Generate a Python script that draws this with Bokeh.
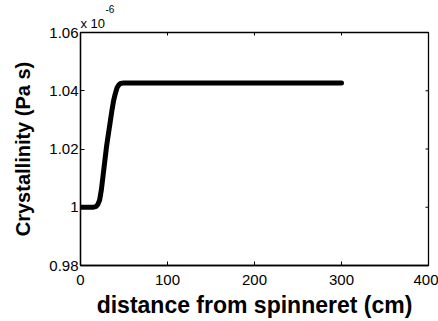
import math
from bokeh.plotting import figure
from bokeh.models import FixedTicker, Range1d, Title
from bokeh.embed import file_html
from bokeh.resources import INLINE

# distance from spinneret (cm)
distance = [0, 15, 18, 20, 22, 24, 26, 28, 30, 32, 34, 36, 38, 40, 42, 44, 46, 50, 100, 200, 300]
# crystallinity, in units of 1e-6 (Pa s)
crystallinity = [1.0, 1.0, 1.0003, 1.001, 1.0025, 1.006, 1.011, 1.016, 1.021, 1.025, 1.029,
                 1.033, 1.0365, 1.039, 1.041, 1.042, 1.0425, 1.0427, 1.0427, 1.0427, 1.0427]

x_ticks = [0, 100, 200, 300, 400]
y_ticks = [0.98, 1.0, 1.02, 1.04, 1.06]
y_tick_labels = ["0.98", "1", "1.02", "1.04", "1.06"]
x_label = "distance from spinneret (cm)"
y_label = "Crystallinity (Pa s)"
exponent_base = "x 10"
exponent_power = "-6"

FONT = "Liberation Sans"

p = figure(width=438, height=321, output_backend="svg", toolbar_location=None,
           x_range=Range1d(x_ticks[0], x_ticks[-1]), y_range=Range1d(y_ticks[0], y_ticks[-1]),
           min_border_left=80, min_border_right=10, min_border_top=32, min_border_bottom=56)
p.title.visible = False
p.background_fill_color = "white"
p.border_fill_color = "white"
p.outline_line_color = "black"
p.outline_line_width = 1.3
p.xgrid.visible = False
p.ygrid.visible = False

p.line(distance, crystallinity, line_color="black", line_width=5, line_join="round", line_cap="round")

# inward ticks on the top and right edges of the box (clipped to the frame)
p.scatter(x_ticks, [y_ticks[-1]] * len(x_ticks), marker="dash", angle=math.pi / 2,
          size=6, line_color="black", line_width=1)
p.scatter([x_ticks[-1]] * len(y_ticks), y_ticks, marker="dash",
          size=6, line_color="black", line_width=1)

for ax in (p.xaxis[0], p.yaxis[0]):
    ax.axis_line_color = "black"
    ax.axis_line_width = 1.3
    ax.major_tick_in = 4
    ax.major_tick_out = 0
    ax.minor_tick_line_color = None
    ax.major_tick_line_color = "black"
    ax.major_label_text_font = FONT
    ax.major_label_text_font_size = "15px"
    ax.major_label_text_color = "black"
    ax.axis_label_text_font = FONT
    ax.axis_label_text_font_style = "bold"
    ax.axis_label_text_color = "black"

p.xaxis.ticker = FixedTicker(ticks=x_ticks)
p.yaxis.ticker = FixedTicker(ticks=y_ticks)
p.yaxis.major_label_overrides = {v: s for v, s in zip(y_ticks, y_tick_labels)}
p.xaxis.major_label_standoff = 9
p.yaxis.major_label_standoff = 2

p.xaxis.axis_label = x_label
p.yaxis.axis_label = y_label
p.xaxis.axis_label_text_font_size = "23px"
p.yaxis.axis_label_text_font_size = "20px"
p.xaxis.axis_label_standoff = 4
p.yaxis.axis_label_standoff = 12

# "x 10^-6" multiplier above the top-left corner
p.add_layout(Title(text=exponent_base, align="left", text_font=FONT, text_font_size="13px",
                   text_font_style="normal", text_color="black", standoff=3,
                   text_line_height=0.7), "above")
p.add_layout(Title(text=exponent_power, align="left", offset=25, text_font=FONT,
                   text_font_size="10px", text_font_style="normal", text_color="black",
                   standoff=0), "above")

open("out.html", "w").write(file_html(p, INLINE))
